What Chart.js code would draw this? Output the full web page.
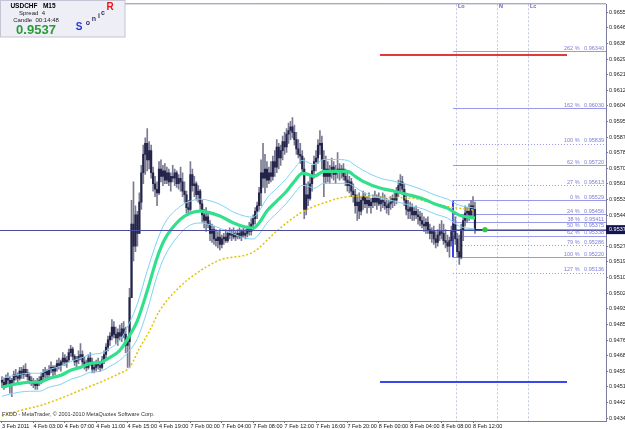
<!DOCTYPE html>
<html>
<head>
<meta charset="utf-8">
<title>USDCHF M15</title>
<script src="https://cdn.jsdelivr.net/npm/chart.js@4.4.1/dist/chart.umd.min.js"></script>
<style>
  html, body { margin: 0; padding: 0; background: #fff; }
  #wrap { width: 625px; height: 429px; position: relative; }
</style>
</head>
<body>
<div id="wrap"><canvas id="chart" width="625" height="429"></canvas></div>
<script>
// M15 candles, bar 0 = 3 Feb 2011 23:00
const opens = [
  0.9455,0.9454,0.9452,0.9456,0.9455,0.9453,0.9455,0.9458,0.9457,0.9456,
  0.9460,0.9458,0.9461,0.9459,0.9457,0.9455,0.9454,0.9453,0.9452,0.9454,
  0.9455,0.9457,0.9459,0.9460,0.9458,0.9461,0.9462,0.9460,0.9462,0.9464,
  0.9463,0.9465,0.9467,0.9465,0.9466,0.9470,0.9472,0.9468,0.9465,0.9466,
  0.9468,0.9469,0.9465,0.9463,0.9462,0.9467,0.9465,0.9461,0.9462,0.9464,
  0.9463,0.9462,0.9466,0.9469,0.9473,0.9477,0.9479,0.9484,0.9480,0.9478,
  0.9481,0.9479,0.9483,0.9480,0.9474,0.9476,0.9500,0.9540,0.9528,0.9545,
  0.9535,0.9552,0.9568,0.9578,0.9584,0.9575,0.9580,0.9568,0.9562,0.9559,
  0.9557,0.9570,0.9566,0.9569,0.9564,0.9568,0.9563,0.9566,0.9565,0.9568,
  0.9562,0.9565,0.9563,0.9558,0.9556,0.9549,0.9548,0.9567,0.9561,0.9562,
  0.9556,0.9558,0.9551,0.9545,0.9542,0.9544,0.9540,0.9535,0.9537,0.9532,
  0.9531,0.9533,0.9529,0.9532,0.9533,0.9531,0.9535,0.9534,0.9535,0.9533,
  0.9534,0.9535,0.9533,0.9536,0.9534,0.9535,0.9537,0.9536,0.9540,0.9543,
  0.9547,0.9550,0.9557,0.9568,0.9565,0.9570,0.9564,0.9568,0.9566,0.9574,
  0.9571,0.9582,0.9576,0.9580,0.9585,0.9582,0.9589,0.9591,0.9593,0.9590,
  0.9586,0.9581,0.9578,0.9577,0.9570,0.9548,0.9556,0.9554,0.9562,0.9569,
  0.9574,0.9576,0.9583,0.9584,0.9575,0.9566,0.9570,0.9566,0.9569,0.9571,
  0.9567,0.9569,0.9570,0.9568,0.9570,0.9566,0.9564,0.9561,0.9563,0.9558,
  0.9556,0.9550,0.9552,0.9547,0.9553,0.9555,0.9551,0.9553,0.9550,0.9552,
  0.9554,0.9552,0.9554,0.9551,0.9553,0.9552,0.9550,0.9549,0.9551,0.9552,
  0.9554,0.9553,0.9558,0.9561,0.9563,0.9559,0.9553,0.9548,0.9547,0.9549,
  0.9545,0.9547,0.9545,0.9544,0.9542,0.9540,0.9539,0.9541,0.9537,0.9535,
  0.9536,0.9532,0.9530,0.9534,0.9536,0.9535,0.9531,0.9530,0.9528,0.9531,
  0.9536,0.9540,0.9532,0.9525,0.9522,0.9537,0.9542,0.9546,0.9547,0.9545,
  0.9550,0.9548
];
const highs = [
  0.9457,0.9456,0.9458,0.9459,0.9457,0.9456,0.9460,0.9461,0.9459,0.9462,
  0.9462,0.9463,0.9464,0.9461,0.9459,0.9457,0.9456,0.9455,0.9456,0.9457,
  0.9459,0.9461,0.9462,0.9461,0.9463,0.9465,0.9463,0.9463,0.9466,0.9467,
  0.9466,0.9470,0.9469,0.9468,0.9472,0.9474,0.9473,0.9469,0.9468,0.9471,
  0.9475,0.9471,0.9468,0.9466,0.9469,0.9470,0.9467,0.9464,0.9466,0.9467,
  0.9465,0.9468,0.9471,0.9475,0.9479,0.9481,0.9488,0.9487,0.9484,0.9483,
  0.9485,0.9486,0.9487,0.9484,0.9478,0.9505,0.9553,0.9563,0.9550,0.9547,
  0.9557,0.9572,0.9583,0.9587,0.9592,0.9585,0.9583,0.9571,0.9566,0.9563,
  0.9574,0.9575,0.9572,0.9573,0.9571,0.9570,0.9568,0.9572,0.9570,0.9569,
  0.9567,0.9571,0.9568,0.9563,0.9558,0.9553,0.9574,0.9570,0.9566,0.9563,
  0.9561,0.9559,0.9553,0.9548,0.9549,0.9547,0.9542,0.9540,0.9539,0.9537,
  0.9536,0.9537,0.9534,0.9535,0.9537,0.9536,0.9538,0.9537,0.9538,0.9536,
  0.9537,0.9538,0.9537,0.9538,0.9537,0.9539,0.9541,0.9543,0.9545,0.9549,
  0.9552,0.9560,0.9575,0.9584,0.9578,0.9574,0.9571,0.9574,0.9577,0.9580,
  0.9586,0.9584,0.9583,0.9588,0.9590,0.9592,0.9595,0.9596,0.9598,0.9594,
  0.9590,0.9586,0.9584,0.9580,0.9576,0.9562,0.9563,0.9566,0.9572,0.9577,
  0.9580,0.9586,0.9591,0.9588,0.9580,0.9577,0.9574,0.9572,0.9576,0.9574,
  0.9572,0.9579,0.9573,0.9572,0.9573,0.9570,0.9568,0.9566,0.9565,0.9562,
  0.9559,0.9556,0.9557,0.9555,0.9558,0.9557,0.9555,0.9557,0.9554,0.9556,
  0.9558,0.9556,0.9557,0.9555,0.9557,0.9556,0.9554,0.9553,0.9555,0.9556,
  0.9557,0.9560,0.9564,0.9567,0.9566,0.9562,0.9556,0.9553,0.9552,0.9551,
  0.9549,0.9550,0.9548,0.9547,0.9546,0.9544,0.9543,0.9544,0.9540,0.9538,
  0.9539,0.9536,0.9537,0.9540,0.9542,0.9540,0.9537,0.9534,0.9533,0.9539,
  0.9546,0.9544,0.9535,0.9534,0.9540,0.9545,0.9550,0.9549,0.9551,0.9553,
  0.9555,0.9552
];
const lows = [
  0.9451,0.9450,0.9451,0.9453,0.9448,0.9446,0.9453,0.9455,0.9453,0.9455,
  0.9456,0.9456,0.9457,0.9455,0.9453,0.9452,0.9451,0.9450,0.9450,0.9452,
  0.9453,0.9455,0.9456,0.9456,0.9457,0.9459,0.9457,0.9458,0.9460,0.9461,
  0.9460,0.9463,0.9463,0.9462,0.9465,0.9468,0.9466,0.9463,0.9462,0.9464,
  0.9466,0.9463,0.9461,0.9460,0.9461,0.9463,0.9459,0.9459,0.9460,0.9461,
  0.9460,0.9461,0.9464,0.9467,0.9471,0.9474,0.9477,0.9478,0.9475,0.9474,
  0.9477,0.9476,0.9478,0.9470,0.9462,0.9462,0.9500,0.9520,0.9525,0.9528,
  0.9535,0.9548,0.9562,0.9567,0.9569,0.9570,0.9565,0.9558,0.9555,0.9550,
  0.9556,0.9563,0.9561,0.9562,0.9562,0.9561,0.9558,0.9563,0.9561,0.9560,
  0.9559,0.9558,0.9555,0.9552,0.9546,0.9545,0.9547,0.9558,0.9555,0.9553,
  0.9552,0.9548,0.9541,0.9538,0.9536,0.9538,0.9531,0.9530,0.9529,0.9528,
  0.9527,0.9526,0.9527,0.9529,0.9530,0.9530,0.9532,0.9531,0.9532,0.9531,
  0.9532,0.9532,0.9531,0.9533,0.9532,0.9533,0.9534,0.9534,0.9537,0.9540,
  0.9543,0.9547,0.9550,0.9560,0.9557,0.9560,0.9562,0.9563,0.9564,0.9566,
  0.9568,0.9570,0.9572,0.9575,0.9578,0.9579,0.9584,0.9586,0.9587,0.9583,
  0.9578,0.9576,0.9573,0.9568,0.9543,0.9545,0.9550,0.9553,0.9558,0.9565,
  0.9569,0.9573,0.9578,0.9570,0.9555,0.9562,0.9563,0.9562,0.9565,0.9564,
  0.9562,0.9565,0.9564,0.9565,0.9564,0.9561,0.9558,0.9557,0.9555,0.9552,
  0.9546,0.9542,0.9543,0.9545,0.9548,0.9549,0.9546,0.9549,0.9546,0.9549,
  0.9550,0.9548,0.9550,0.9547,0.9549,0.9548,0.9546,0.9545,0.9548,0.9549,
  0.9550,0.9551,0.9555,0.9557,0.9556,0.9550,0.9545,0.9543,0.9543,0.9542,
  0.9542,0.9543,0.9540,0.9539,0.9538,0.9536,0.9535,0.9535,0.9532,0.9530,
  0.9529,0.9527,0.9528,0.9531,0.9532,0.9529,0.9527,0.9525,0.9522,0.9528,
  0.9534,0.9529,0.9522,0.9518,0.9521,0.9531,0.9539,0.9541,0.9542,0.9543,
  0.9544,0.9535
];
const closes = [
  0.9454,0.9452,0.9456,0.9455,0.9453,0.9455,0.9458,0.9457,0.9456,0.9460,
  0.9458,0.9461,0.9459,0.9457,0.9455,0.9454,0.9453,0.9452,0.9454,0.9455,
  0.9457,0.9459,0.9460,0.9458,0.9461,0.9462,0.9460,0.9462,0.9464,0.9463,
  0.9465,0.9467,0.9465,0.9466,0.9470,0.9472,0.9468,0.9465,0.9466,0.9468,
  0.9469,0.9465,0.9463,0.9462,0.9467,0.9465,0.9461,0.9462,0.9464,0.9463,
  0.9462,0.9466,0.9469,0.9473,0.9477,0.9479,0.9484,0.9480,0.9478,0.9481,
  0.9479,0.9483,0.9480,0.9474,0.9476,0.9500,0.9540,0.9528,0.9545,0.9535,
  0.9552,0.9568,0.9578,0.9584,0.9575,0.9580,0.9568,0.9562,0.9559,0.9557,
  0.9570,0.9566,0.9569,0.9564,0.9568,0.9563,0.9566,0.9565,0.9568,0.9562,
  0.9565,0.9563,0.9558,0.9556,0.9549,0.9548,0.9567,0.9561,0.9562,0.9556,
  0.9558,0.9551,0.9545,0.9542,0.9544,0.9540,0.9535,0.9537,0.9532,0.9531,
  0.9533,0.9529,0.9532,0.9533,0.9531,0.9535,0.9534,0.9535,0.9533,0.9534,
  0.9535,0.9533,0.9536,0.9534,0.9535,0.9537,0.9536,0.9540,0.9543,0.9547,
  0.9550,0.9557,0.9568,0.9565,0.9570,0.9564,0.9568,0.9566,0.9574,0.9571,
  0.9582,0.9576,0.9580,0.9585,0.9582,0.9589,0.9591,0.9593,0.9590,0.9586,
  0.9581,0.9578,0.9577,0.9570,0.9548,0.9556,0.9554,0.9562,0.9569,0.9574,
  0.9576,0.9583,0.9584,0.9575,0.9566,0.9570,0.9566,0.9569,0.9571,0.9567,
  0.9569,0.9570,0.9568,0.9570,0.9566,0.9564,0.9561,0.9563,0.9558,0.9556,
  0.9550,0.9552,0.9547,0.9553,0.9555,0.9551,0.9553,0.9550,0.9552,0.9554,
  0.9552,0.9554,0.9551,0.9553,0.9552,0.9550,0.9549,0.9551,0.9552,0.9554,
  0.9553,0.9558,0.9561,0.9563,0.9559,0.9553,0.9548,0.9547,0.9549,0.9545,
  0.9547,0.9545,0.9544,0.9542,0.9540,0.9539,0.9541,0.9537,0.9535,0.9536,
  0.9532,0.9530,0.9534,0.9536,0.9535,0.9531,0.9530,0.9528,0.9531,0.9536,
  0.9540,0.9532,0.9525,0.9522,0.9537,0.9542,0.9546,0.9547,0.9545,0.9550,
  0.9548,0.9537
];

// Sonic R dragon (EMA34 of high / close / low) at these bars
const dragonBars = [0,4,9,14,19,24,30,35,40,45,50,55,60,65,69,74,79,83,91,96,101,111,118,124,128,131,135,140,145,149,153,156,159,164,170,176,180,184,193,200,206,215,221,227,233,241];
const dragonMid = [0.94512,0.94523,0.94533,0.94539,0.94539,0.94560,0.94577,0.94604,0.94620,0.94642,0.94647,0.94674,0.94712,0.94793,0.94875,0.95037,0.95216,0.95319,0.95427,0.95460,0.95471,0.95444,0.95406,0.95384,0.95378,0.95406,0.95471,0.95525,0.95579,0.95633,0.95676,0.95671,0.95660,0.95687,0.95687,0.95687,0.95660,0.95633,0.95595,0.95579,0.95563,0.95536,0.95508,0.95487,0.95449,0.95433];
const dragonHigh = [0.94561,0.94571,0.94582,0.94588,0.94588,0.94609,0.94626,0.94653,0.94669,0.94691,0.94696,0.94723,0.94766,0.94864,0.94967,0.95146,0.95308,0.95406,0.95498,0.95525,0.95536,0.95508,0.95465,0.95443,0.95438,0.95471,0.95541,0.95595,0.95649,0.95703,0.95747,0.95736,0.95725,0.95752,0.95752,0.95747,0.95720,0.95693,0.95649,0.95633,0.95617,0.95584,0.95557,0.95536,0.95503,0.95487];
const dragonLow = [0.94463,0.94474,0.94485,0.94490,0.94490,0.94512,0.94528,0.94555,0.94571,0.94593,0.94598,0.94626,0.94658,0.94712,0.94777,0.94929,0.95118,0.95227,0.95351,0.95395,0.95406,0.95378,0.95346,0.95324,0.95319,0.95346,0.95406,0.95460,0.95514,0.95568,0.95611,0.95606,0.95595,0.95622,0.95622,0.95622,0.95601,0.95573,0.95541,0.95525,0.95508,0.95481,0.95454,0.95433,0.95389,0.95373];

// slow EMA (yellow dotted)
const slowBars = [0,10,20,30,40,50,60,65,70,75,80,90,101,111,128,140,152,162,179,193,209,223,241];
const slowMa = [0.94355,0.94387,0.94414,0.94452,0.94496,0.94539,0.94588,0.94620,0.94723,0.94815,0.94923,0.95053,0.95146,0.95205,0.95248,0.95362,0.95460,0.95508,0.95552,0.95546,0.95541,0.95503,0.95476];

// axes
const timeTickBars = [0,16,32,48,64,80,96,112,128,144,160,176,192,208,224,240];
const timeTickLabels = ['3 Feb 2011','4 Feb 03:00','4 Feb 07:00','4 Feb 11:00','4 Feb 15:00','4 Feb 19:00','7 Feb 00:00','7 Feb 04:00','7 Feb 08:00','7 Feb 12:00','7 Feb 16:00','7 Feb 20:00','8 Feb 00:00','8 Feb 04:00','8 Feb 08:00','8 Feb 12:00'];
const priceTicks = [0.96554,0.96469,0.96384,0.96299,0.96214,0.96129,0.96044,0.95959,0.95874,0.95789,0.95704,0.95619,0.95534,0.95449,0.95364,0.95279,0.95194,0.95109,0.95024,0.94939,0.94854,0.94769,0.94684,0.94599,0.94514,0.94429,0.94344];

// objects on the chart
const bidPrice = 0.9537;
const fibLabels = ['262 %','162 %','100 %','62 %','27 %','0 %','24 %','38 %','50 %','62 %','79 %','100 %','127 %'];
const fibPrices = [0.96340,0.96030,0.95839,0.95720,0.95613,0.95529,0.95456,0.95411,0.95375,0.95338,0.95286,0.95220,0.95136];
const fibStartBar = 229.8;
const markerNames = ['Lo','N','Lc'];
const markerBars = [231.3,252.2,268.0];
const zoneBars = [192.6,287.9];
const zoneTop = 0.96321;
const zoneBottom = 0.94539;
const dotBar = 246.1;

const FONT = '"Liberation Sans", Arial, sans-serif';

const overlay = {
  id: 'overlay',
  beforeDatasetsDraw(chart) {
    const { ctx, chartArea: a, scales: { x, y } } = chart;
    ctx.save();
    ctx.lineWidth = 1;

    // Lo / N / Lc vertical markers
    ctx.strokeStyle = '#bfc8e2';
    ctx.setLineDash([2, 2]);
    markerBars.forEach(b => {
      const px = Math.round(x.getPixelForValue(b)) + 0.5;
      ctx.beginPath(); ctx.moveTo(px, a.top); ctx.lineTo(px, a.bottom); ctx.stroke();
    });

    // fibo levels
    const fx = x.getPixelForValue(fibStartBar);
    fibPrices.forEach((p, k) => {
      const py = Math.round(y.getPixelForValue(p)) + 0.5;
      ctx.strokeStyle = '#9898e6';
      ctx.setLineDash([2, 4, 10, 12].includes(k) ? [1, 2] : []);
      ctx.beginPath(); ctx.moveTo(fx, py); ctx.lineTo(a.right, py); ctx.stroke();
    });
    ctx.setLineDash([]);

    // target zone lines
    const zx0 = x.getPixelForValue(zoneBars[0]), zx1 = x.getPixelForValue(zoneBars[1]);
    ctx.lineWidth = 2;
    ctx.strokeStyle = '#e23a3a';
    let zy = Math.round(y.getPixelForValue(zoneTop));
    ctx.beginPath(); ctx.moveTo(zx0, zy); ctx.lineTo(zx1, zy); ctx.stroke();
    ctx.strokeStyle = '#3a46ee';
    zy = Math.round(y.getPixelForValue(zoneBottom));
    ctx.beginPath(); ctx.moveTo(zx0, zy); ctx.lineTo(zx1, zy); ctx.stroke();

    // fibo anchor
    ctx.strokeStyle = '#3c3cf0';
    ctx.beginPath();
    ctx.moveTo(Math.round(fx), y.getPixelForValue(fibPrices[5]));
    ctx.lineTo(Math.round(fx), y.getPixelForValue(fibPrices[11]));
    ctx.stroke();
    ctx.restore();
  },
  afterDraw(chart) {
    const { ctx, chartArea: a, scales: { x, y } } = chart;
    ctx.save();

    // frame top
    ctx.strokeStyle = '#8a8aa4';
    ctx.lineWidth = 1;
    ctx.beginPath(); ctx.moveTo(0, a.top - 0.5); ctx.lineTo(a.right, a.top - 0.5); ctx.stroke();

    // bid line, over the candles
    const by = y.getPixelForValue(bidPrice);
    ctx.strokeStyle = '#4c4c9c';
    ctx.beginPath(); ctx.moveTo(a.left, Math.round(by) + 0.5); ctx.lineTo(a.right, Math.round(by) + 0.5); ctx.stroke();

    // fibo labels
    ctx.font = '5.5px ' + FONT;
    ctx.fillStyle = '#7c7cd8';
    ctx.textAlign = 'right';
    ctx.textBaseline = 'bottom';
    fibPrices.forEach((p, k) => {
      ctx.fillText(fibLabels[k] + '   ' + p.toFixed(5), a.right - 2, y.getPixelForValue(p));
    });

    // marker names
    ctx.font = 'bold 5.5px ' + FONT;
    ctx.fillStyle = '#8050c8';
    ctx.textAlign = 'left';
    ctx.textBaseline = 'middle';
    markerBars.forEach((b, k) => ctx.fillText(markerNames[k], x.getPixelForValue(b) + 2, 6));

    // price marker after last bar
    ctx.strokeStyle = '#2a2a40';
    ctx.beginPath(); ctx.moveTo(x.getPixelForValue(closes.length - 1), by); ctx.lineTo(x.getPixelForValue(dotBar), by); ctx.stroke();
    ctx.fillStyle = '#2ccc3c';
    ctx.beginPath(); ctx.arc(x.getPixelForValue(dotBar), by, 2.6, 0, Math.PI * 2); ctx.fill();

    // bid on price axis
    ctx.fillStyle = '#14144e';
    ctx.fillRect(a.right, by - 4.5, 19, 9);
    ctx.fillStyle = '#ffffff';
    ctx.font = '5.5px ' + FONT;
    ctx.fillText(bidPrice.toFixed(5), a.right + 3, by);

    // info box
    ctx.fillStyle = '#eeeef7';
    ctx.fillRect(0, 0, 125, 37);
    ctx.strokeStyle = '#c4c4d4';
    ctx.strokeRect(0.5, 0.5, 124.5, 36.5);
    ctx.fillStyle = '#000';
    ctx.textAlign = 'center';
    ctx.font = 'bold 6.5px ' + FONT;
    ctx.fillText('USDCHF   M15', 33, 6);
    ctx.font = '6px ' + FONT;
    ctx.fillStyle = '#222';
    ctx.fillText('Spread  4', 32, 13);
    ctx.fillText('Candle  00:14:48', 36, 20);
    ctx.font = 'bold 13px ' + FONT;
    ctx.fillStyle = '#2a9a38';
    ctx.fillText('0.9537', 36, 30);
    ctx.font = 'bold 10px ' + FONT;
    ctx.fillStyle = '#2436dc';
    ctx.fillText('S', 79, 27);
    ctx.font = 'bold 7px ' + FONT;
    ctx.fillStyle = '#33335a';
    ctx.fillText('o', 88, 23);
    ctx.fillText('n', 94, 19);
    ctx.fillText('i', 99, 16);
    ctx.fillText('c', 103, 13);
    ctx.font = 'bold 10px ' + FONT;
    ctx.fillStyle = '#ee1414';
    ctx.fillText('R', 110, 7);

    // watermark
    ctx.textAlign = 'left';
    ctx.font = '5.5px ' + FONT;
    ctx.fillStyle = '#333';
    ctx.fillText('FXDD - MetaTrader, \u00a9 2001-2010 MetaQuotes Software Corp.', 2, 414);
    ctx.restore();
  }
};

const wickData = highs.map((h, i) => ({ x: i, y: [lows[i], h] }));
const bodyData = opens.map((o, i) => ({ x: i, y: [o, closes[i]] }));
const line = (bars, vals) => bars.map((b, k) => ({ x: b, y: vals[k] }));

new Chart(document.getElementById('chart'), {
  data: {
    datasets: [
      { type: 'bar', data: wickData, backgroundColor: '#7a7a92', barThickness: 1, grouped: false, order: 10 },
      { type: 'bar', data: bodyData, backgroundColor: '#24244a', barThickness: 1.5, minBarLength: 1, grouped: false, order: 9 },
      { type: 'line', data: line(slowBars, slowMa), borderColor: '#e2c400', borderWidth: 1.5, borderDash: [2, 2], pointRadius: 0, cubicInterpolationMode: 'monotone', order: 4 },
      { type: 'line', data: line(dragonBars, dragonHigh), borderColor: '#7ed2f6', borderWidth: 1, pointRadius: 0, cubicInterpolationMode: 'monotone', order: 3 },
      { type: 'line', data: line(dragonBars, dragonLow), borderColor: '#7ed2f6', borderWidth: 1, pointRadius: 0, cubicInterpolationMode: 'monotone', order: 3 },
      { type: 'line', data: line(dragonBars, dragonMid), borderColor: '#30e08c', borderWidth: 3.2, pointRadius: 0, cubicInterpolationMode: 'monotone', order: 2 }
    ]
  },
  options: {
    responsive: false,
    animation: false,
    events: [],
    layout: { padding: { top: 2, left: 0, right: 0, bottom: 0 } },
    plugins: { legend: { display: false }, tooltip: { enabled: false } },
    scales: {
      x: {
        type: 'linear',
        offset: false,
        min: -1.019,
        max: 307.77,
        afterBuildTicks: s => { s.ticks = timeTickBars.map(v => ({ value: v })); },
        afterFit: s => { s.height = 8; },
        ticks: {
          autoSkip: false, maxRotation: 0, align: 'start', padding: 0,
          color: '#111', font: { size: 5.5, family: FONT },
          callback: (v, i) => timeTickLabels[i]
        },
        grid: { drawOnChartArea: false, offset: false, tickLength: 2, color: '#7a7a9a' },
        border: { color: '#7a7a9a' }
      },
      y: {
        type: 'linear',
        position: 'right',
        beginAtZero: false,
        min: 0.94328,
        max: 0.96597,
        afterBuildTicks: s => { s.ticks = priceTicks.map(v => ({ value: v })); },
        afterFit: s => { s.width = 19; },
        ticks: {
          padding: 1, color: '#222', font: { size: 5.5, family: FONT },
          callback: v => v.toFixed(5)
        },
        grid: { drawOnChartArea: false, tickLength: 2, color: '#7a7a9a' },
        border: { color: '#7a7a9a' }
      }
    }
  },
  plugins: [overlay]
});
</script>
</body>
</html>
